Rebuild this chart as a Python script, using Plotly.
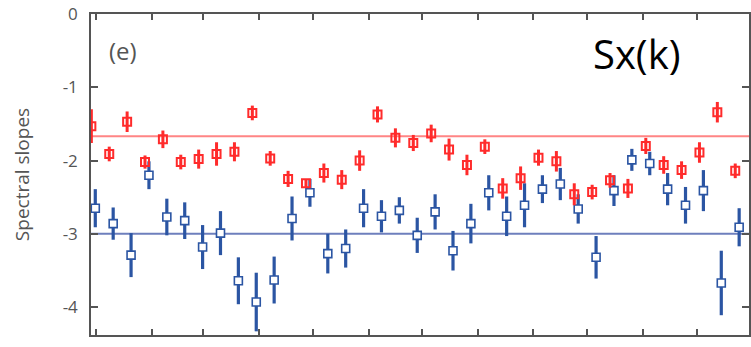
import plotly.graph_objects as go

# ---- data ----
red_y = [-1.53, -1.91, -1.47, -2.02, -1.71, -2.02, -1.98, -1.91, -1.88, -1.35,
         -1.97, -2.25, -2.31, -2.17, -2.26, -2.00, -1.37, -1.69, -1.76, -1.63,
         -1.85, -2.06, -1.81, -2.38, -2.24, -1.96, -2.01, -2.46, -2.43, -2.27,
         -2.38, -1.80, -2.06, -2.13, -1.89, -1.34, -2.14]
red_err = [0.23, 0.10, 0.14, 0.09, 0.12, 0.10, 0.13, 0.16, 0.13, 0.10,
           0.10, 0.11, 0.05, 0.13, 0.13, 0.14, 0.11, 0.13, 0.11, 0.12,
           0.15, 0.14, 0.10, 0.14, 0.16, 0.11, 0.14, 0.15, 0.10, 0.10,
           0.13, 0.11, 0.12, 0.12, 0.14, 0.14, 0.10]
blue_y = [-2.65, -2.86, -3.29, -2.20, -2.77, -2.82, -3.18, -2.99, -3.64, -3.93,
          -3.63, -2.79, -2.44, -3.27, -3.20, -2.65, -2.76, -2.68, -3.02, -2.70,
          -3.23, -2.86, -2.44, -2.76, -2.61, -2.39, -2.32, -2.66, -3.32, -2.41,
          -1.99, -2.04, -2.39, -2.61, -2.41, -3.67, -2.91]
blue_err = [0.26, 0.22, 0.30, 0.19, 0.25, 0.25, 0.30, 0.30, 0.32, 0.40,
            0.32, 0.30, 0.19, 0.27, 0.26, 0.26, 0.22, 0.18, 0.24, 0.24,
            0.27, 0.27, 0.24, 0.27, 0.30, 0.19, 0.22, 0.20, 0.29, 0.21,
            0.15, 0.16, 0.22, 0.25, 0.28, 0.44, 0.26]
red_x = list(range(len(red_y)))
blue_x = [i + 0.22 for i in range(len(blue_y))]
x_ticks = [0.28, 3.40, 6.24, 9.36, 12.37, 15.50, 18.51, 21.63, 24.69, 27.70, 30.83, 33.84]
y_ticks = [0, -1, -2, -3, -4]
y_ticktext = ["0", "-1", "-2", "-3", "-4"]
red_ref = -1.667
blue_ref = -3.0

RED = "#ff2b2b"
BLUE = "#2b55a3"
AX = "#555555"
FONT = "Open Sans"

fig = go.Figure()
fig.add_trace(go.Scatter(
    x=blue_x, y=blue_y, mode="markers",
    marker=dict(symbol="square", size=8, color="white",
                line=dict(color=BLUE, width=1.6)),
    error_y=dict(type="data", array=blue_err, color=BLUE, thickness=3.2, width=0),
    showlegend=False))
fig.add_trace(go.Scatter(
    x=red_x, y=red_y, mode="markers",
    marker=dict(symbol="square-open", size=8, color=RED,
                line=dict(color=RED, width=2)),
    error_y=dict(type="data", array=red_err, color=RED, thickness=3, width=0),
    showlegend=False))

fig.add_shape(type="line", xref="paper", yref="y", x0=0, x1=1, y0=red_ref, y1=red_ref,
              line=dict(color="#ff8585", width=2), layer="below")
fig.add_shape(type="line", xref="paper", yref="y", x0=0, x1=1, y0=blue_ref, y1=blue_ref,
              line=dict(color="#6e7fbd", width=2), layer="below")

fig.add_annotation(text="(e)", xref="paper", yref="paper", x=(123 - 91) / 660,
                   y=(335 - 50) / 321, showarrow=False,
                   font=dict(family=FONT, size=24, color=AX), xanchor="center", yanchor="middle")
fig.add_annotation(text="Sx(k)", xref="paper", yref="paper", x=(638 - 91) / 660,
                   y=(335 - 53) / 321, showarrow=False,
                   font=dict(family=FONT, size=40, color="black"), xanchor="center", yanchor="middle")

fig.update_layout(
    width=751, height=347,
    margin=dict(l=91, r=0, t=14, b=12),
    paper_bgcolor="white", plot_bgcolor="white",
    font=dict(family=FONT, color=AX),
    xaxis=dict(range=[-0.02, 36.77], tickvals=x_ticks, showticklabels=False,
               ticks="inside", ticklen=6, tickwidth=1.5, tickcolor=AX,
               showline=True, linecolor=AX, linewidth=1.5, mirror="ticks",
               showgrid=False, zeroline=False),
    yaxis=dict(range=[-4.38, 0], tickvals=y_ticks, ticktext=y_ticktext,
               ticks="inside", ticklen=7, tickwidth=1.5, tickcolor=AX,
               showline=True, linecolor=AX, linewidth=1.5, mirror="ticks",
               showgrid=False, zeroline=False, ticklabelstandoff=8,
               tickfont=dict(family=FONT, size=17, color=AX),
               title=dict(text="Spectral slopes", font=dict(family=FONT, size=19, color=AX),
                          standoff=28)),
)

fig.write_html("out.html", config={"displayModeBar": False},
               post_script="document.body.style.margin='0px';")
